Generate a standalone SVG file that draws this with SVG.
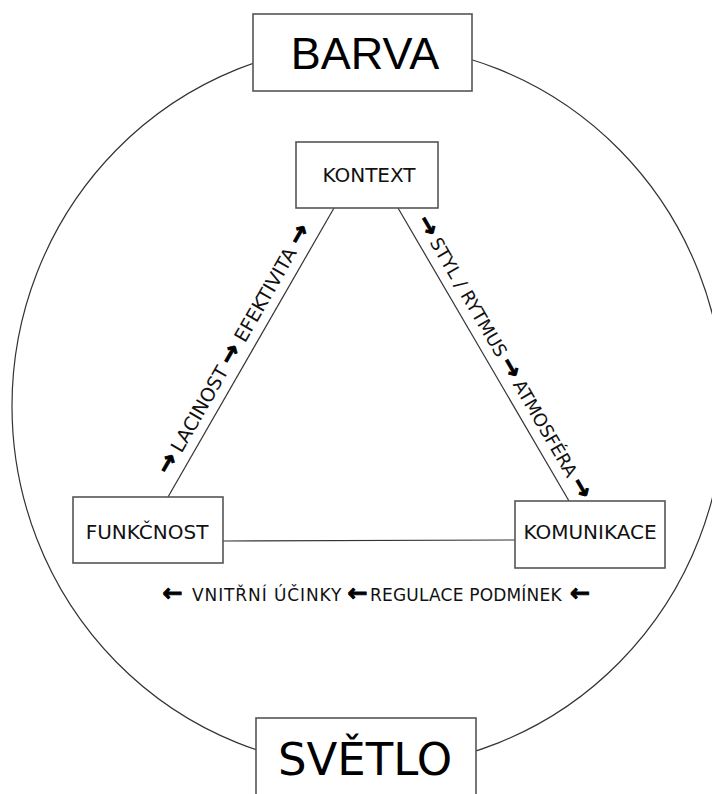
<svg xmlns="http://www.w3.org/2000/svg" width="712" height="794" viewBox="0 0 712 794">
<style>
.box{fill:#fff;stroke:#555;stroke-width:1.6}
.ln{fill:none;stroke:#333;stroke-width:1.2}
.lbl{font-family:"DejaVu Sans",Verdana,sans-serif;fill:#111}
.big{font-family:"DejaVu Sans",Verdana,sans-serif;font-size:45px;fill:#000}
.bar{font-family:"Liberation Sans",Arial,sans-serif;font-size:45px;fill:#000}
.node{font-family:"DejaVu Sans",Verdana,sans-serif;font-size:20px;fill:#111}
.ar{font-family:"DejaVu Sans",sans-serif;font-weight:bold;font-size:24px;fill:#000;stroke:#000;stroke-width:0.9}
</style>
<rect width="712" height="794" fill="#fff"/>
<g id="connectors">
<ellipse class="ln" cx="368" cy="406" rx="356" ry="362"/>
<line class="ln" x1="334" y1="208" x2="168" y2="497"/>
<line class="ln" x1="398" y1="208" x2="569" y2="501"/>
<line class="ln" x1="223" y1="541" x2="515" y2="540"/>
</g>
<g id="labels">
<text class="lbl" font-size="19" transform="translate(168.5,476.5) rotate(-60.1)"><tspan class="ar" x="11" y="0" text-anchor="middle">→</tspan><tspan x="74" y="0" text-anchor="middle">LACINOST</tspan><tspan class="ar" x="137" y="0" text-anchor="middle">→</tspan><tspan x="206" y="0" text-anchor="middle">EFEKTIVITA</tspan><tspan class="ar" x="275" y="0" text-anchor="middle">→</tspan></text>
<text class="lbl" font-size="18" transform="translate(416.5,220.5) rotate(59.7)"><tspan class="ar" x="10.3" y="0" text-anchor="middle">→</tspan><tspan x="92.5" y="0" text-anchor="middle">STYL / RYTMUS</tspan><tspan class="ar" x="174.8" y="0" text-anchor="middle">→</tspan><tspan x="244.5" y="0" text-anchor="middle">ATMOSFÉRA</tspan><tspan class="ar" x="314.2" y="0" text-anchor="middle">→</tspan></text>
<text class="lbl" font-size="17" y="601"><tspan class="ar" x="172.5" text-anchor="middle">←</tspan><tspan x="192" letter-spacing="0.9">VNITŘNÍ ÚČINKY</tspan><tspan class="ar" x="357.5" text-anchor="middle">←</tspan><tspan x="370" letter-spacing="0.2">REGULACE PODMÍNEK</tspan><tspan class="ar" x="580" text-anchor="middle">←</tspan></text>
</g>
<g id="node-barva">
<rect class="box" x="253" y="14" width="219" height="77"/>
<text class="bar" x="365" y="69" text-anchor="middle">BARVA</text>
</g>
<g id="node-svetlo">
<rect class="box" x="256" y="718" width="220" height="90"/>
<text class="big" x="365" y="775" text-anchor="middle">SVĚTLO</text>
</g>
<g id="node-kontext">
<rect class="box" x="296" y="142" width="142" height="66"/>
<text class="node" x="369" y="182" text-anchor="middle">KONTEXT</text>
</g>
<g id="node-funkcnost">
<rect class="box" x="73" y="497" width="150" height="66"/>
<text class="node" x="147" y="539" text-anchor="middle">FUNKČNOST</text>
</g>
<g id="node-komunikace">
<rect class="box" x="515" y="501" width="150" height="67"/>
<text class="node" x="590" y="539" text-anchor="middle">KOMUNIKACE</text>
</g>
</svg>
